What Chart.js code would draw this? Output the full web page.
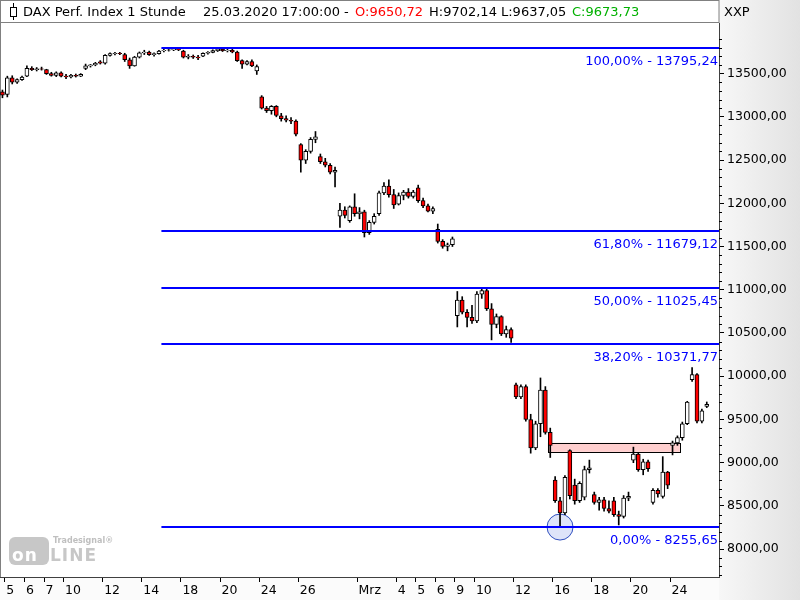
<!DOCTYPE html>
<html lang="de">
<head>
<meta charset="utf-8">
<title>DAX Perf. Index 1 Stunde</title>
<script src="https://cdn.jsdelivr.net/npm/chart.js@4.4.1/dist/chart.umd.min.js"></script>
<style>
  html, body { margin: 0; padding: 0; background: #fff; }
  #wrap { position: relative; width: 800px; height: 600px; overflow: hidden; font-family: 'DejaVu Sans', sans-serif; }
  #chart { position: absolute; left: 0; top: 0; }
  .ht { position: absolute; top: 4px; font-size: 13px; line-height: 15px; white-space: pre; color: #000; }
  #icon { position: absolute; left: 10px; top: 3px; width: 7px; height: 17px; }
  #icon .w { position: absolute; left: 3px; top: 0; width: 1px; height: 17px; background: #000; }
  #icon .b { position: absolute; left: 0; top: 4px; width: 5px; height: 8px; border: 1px solid #000; background: #fff; }
  #logo { position: absolute; left: 9px; top: 536px; width: 110px; height: 30px; opacity: 0.55; }
  #logo .box { position: absolute; left: 0; top: 1px; width: 40px; height: 28px; border-radius: 6px; background: #9a9a9a; }
  #logo .on { position: absolute; left: 3px; top: 9px; font: bold 17px 'DejaVu Sans', sans-serif; color: #fff; letter-spacing: 1px; }
  #logo .line { position: absolute; left: 41px; top: 9px; font: bold 17px 'DejaVu Sans', sans-serif; color: #9a9a9a; letter-spacing: 1px; }
  #logo .ts { position: absolute; left: 44px; top: 0; font: bold 8px 'DejaVu Sans', sans-serif; color: #8a8a8a; }
</style>
</head>
<body>
<div id="wrap">
  <canvas id="chart" width="800" height="600"></canvas>
  <div id="icon"><div class="w"></div><div class="b"></div></div>
  <span class="ht" style="left:23px">DAX Perf. Index 1 Stunde</span>
  <span class="ht" style="left:203px">25.03.2020 17:00:00 -</span>
  <span class="ht" style="left:355px;color:#ff0000">O:9650,72</span>
  <span class="ht" style="left:429px">H:9702,14</span>
  <span class="ht" style="left:501px">L:9637,05</span>
  <span class="ht" style="left:572px;color:#00b000">C:9673,73</span>
  <span class="ht" style="left:724px">XXP</span>
  <div id="logo"><div class="box"></div><span class="on">on</span><span class="line">LINE</span><span class="ts">Tradesignal®</span></div>
</div>
<script>
// trading days shown (04.02. only with its last bar)
const days = ['04.02.','05.02.','06.02.','07.02.','10.02.','11.02.','12.02.','13.02.','14.02.',
  '17.02.','18.02.','19.02.','20.02.','21.02.','24.02.','25.02.','26.02.','27.02.','28.02.',
  '02.03.','03.03.','04.03.','05.03.','06.03.','09.03.','10.03.','11.03.','12.03.','13.03.',
  '16.03.','17.03.','18.03.','19.03.','20.03.','23.03.','24.03.','25.03.'];
const slots = ['09:00','11:00','13:00','15:00'];

// x axis labels
const tickDays = ['05.02.','06.02.','07.02.','10.02.','12.02.','14.02.','18.02.','20.02.','24.02.','26.02.',
  '02.03.','04.03.','05.03.','06.03.','09.03.','10.03.','12.03.','16.03.','18.03.','20.03.','24.03.'];
const tickText = ['5','6','7','10','12','14','18','20','24','26','Mrz','4','5','6','9','10','12','16','18','20','24'];

// y axis labels
const yTicks = [8000,8500,9000,9500,10000,10500,11000,11500,12000,12500,13000,13500];

// bars (one row per day)
const opens = [13290,
  13260,13450,13400,13430,  13470,13560,13545,13555,  13545,13500,13480,13510,  13470,13460,13480,13470,
  13560,13590,13600,13635,  13620,13710,13730,13735,  13720,13660,13590,13690,  13740,13750,13720,13730,
  13765,13770,13775,13780,  13760,13690,13700,13690,  13700,13735,13745,13765,  13780,13765,13770,13750,
  13650,13610,13640,13530,  13230,13100,13070,13120,  13010,12980,12960,12950,  12680,12500,12600,12740,
  12540,12480,12440,12360,  11850,11920,11800,11960,  11880,11900,11660,11780,  11880,12120,12200,12100,
  11990,12090,12130,12080,  12180,12030,11970,11910,  11700,11560,11500,11520,  10700,10880,10740,10680,
  10640,10950,10990,10780,  10600,10690,10490,10540,  9900,9760,9880,9500,      9170,9450,9840,9350,
  8800,8560,8420,9140,      8740,8560,8600,8920,      8630,8540,8570,8470,      8560,8400,8380,8590,
  9030,9100,8920,9010,      8540,8680,8610,8890,      9200,9230,9290,9450,      9960,10020,9480,9650.72];
const highs = [13310,
  13470,13475,13440,13470,  13590,13580,13570,13575,  13550,13515,13520,13520,  13490,13490,13495,13500,
  13610,13605,13630,13650,  13720,13740,13745,13745,  13735,13680,13700,13750,  13770,13760,13740,13770,
  13785,13790,13790,13790,  13770,13720,13715,13710,  13740,13755,13775,13795.24, 13790,13780,13785,13760,
  13660,13650,13660,13600,  13245,13120,13130,13130,  13040,13010,12990,12965,  12690,12620,12760,12830,
  12570,12520,12460,12420,  12000,11960,11970,12110,  11950,11920,11800,11880,  12140,12240,12270,12160,
  12120,12150,12170,12150,  12210,12060,11990,11960,  11760,11580,11540,11610,  10980,10920,10770,10820,
  10980,11020,11010,10840,  10720,10700,10580,10560,  9920,9900,9900,9560,      9480,9980,9880,9400,
  8840,8600,8850,9150,      8810,8780,8960,9030,      8660,8600,8600,8560,      8600,8440,8620,8660,
  9180,9110,9040,9030,      8700,8700,9070,8900,      9250,9310,9470,9710,      10100,10030,9620,9702.14];
const lows = [13220,
  13230,13380,13385,13420,  13465,13535,13530,13540,  13490,13470,13465,13460,  13440,13450,13460,13465,
  13545,13575,13590,13610,  13610,13700,13715,13720,  13640,13560,13585,13680,  13720,13710,13700,13725,
  13750,13760,13765,13765,  13680,13670,13675,13660,  13695,13725,13740,13755,  13755,13750,13740,13640,
  13560,13600,13580,13490,  13090,13050,13030,13000,  12950,12940,12920,12780,  12360,12460,12580,12700,
  12460,12420,12340,12190,  11720,11830,11780,11850,  11820,11610,11640,11760,  11860,12100,12070,11940,
  11980,12040,12060,12060,  12010,11950,11900,11880,  11540,11480,11450,11500,  10570,10720,10570,10610,
  10620,10900,10760,10420,  10560,10470,10450,10390,  9740,9740,9480,9110,      9150,9300,9330,9060,
  8540,8255.65,8400,8580,   8520,8540,8570,8880,      8520,8450,8440,8420,      8380,8280,8360,8560,
  9000,8900,8860,8900,      8520,8600,8590,8700,      9090,9200,9260,9440,      9940,9460,9460,9637.05];
const closes = [13250,
  13450,13400,13430,13460,  13560,13545,13555,13550,  13500,13480,13510,13470,  13460,13480,13470,13490,
  13590,13600,13620,13620,  13710,13730,13735,13730,  13660,13590,13690,13740,  13750,13720,13730,13760,
  13770,13775,13780,13775,  13690,13700,13690,13680,  13735,13745,13765,13785,  13765,13770,13750,13650,
  13610,13640,13590,13580,  13100,13070,13120,13015,  12980,12960,12950,12800,  12500,12600,12740,12770,
  12480,12440,12360,12380,  11920,11860,11960,11880,  11900,11660,11780,11850,  12120,12200,12100,11980,
  12090,12130,12080,12130,  12030,11970,11910,11940,  11560,11500,11520,11590,  10880,10740,10680,10640,
  10950,10990,10780,10600,  10690,10490,10540,10440,  9760,9880,9500,9170,      9450,9840,9350,9200,
  8560,8420,8830,8620,      8560,8760,8920,8940,      8540,8570,8470,8440,      8400,8380,8590,8610,
  9100,8920,9010,8930,      8680,8640,8890,8740,      9230,9290,9450,9700,      10020,9480,9600,9673.73];

// Fibonacci retracement
const fibPct = ['100,00%','61,80%','50,00%','38,20%','0,00%'];
const fibPrice = [13795.24, 11679.12, 11025.45, 10371.77, 8255.65];
const fibFrom = '17.02. 09:00';

// resistance zone
const zoneFrom = '13.03. 15:00';
const zoneTo = '24.03. 11:00';
const zoneLow = 9125;
const zoneHigh = 9230;

const candleLabels = [days[0] + ' 15:00'];
days.slice(1).forEach(d => slots.forEach(s => candleLabels.push(d + ' ' + s)));
candleLabels.push(' ', '  ');

const tickAt = {};
tickDays.forEach((d, i) => { tickAt[candleLabels.indexOf(d + ' 09:00')] = tickText[i]; });

const bodies = opens.map((o, i) => [o, closes[i]]);
const wicks = lows.map((l, i) => [l, highs[i]]);
const bodyColors = opens.map((o, i) => closes[i] >= o ? '#ffffff' : '#ff0000');

const fmt = v => v.toFixed(2).replace('.', ',');
const FONT = 'DejaVu Sans';

const backdrop = {
  id: 'backdrop',
  beforeDraw(chart) {
    const c = chart.ctx, a = chart.chartArea;
    c.save();
    c.fillStyle = '#ffffff';
    c.fillRect(0, 0, chart.width, chart.height);
    const g = c.createLinearGradient(a.right, 0, chart.width, 0);
    g.addColorStop(0, '#f7f7f7');
    g.addColorStop(1, '#e2e2e2');
    c.fillStyle = g;
    c.fillRect(a.right, 0, chart.width - a.right, chart.height);
    c.fillStyle = '#fbfbfb';
    c.fillRect(0, a.bottom, a.right, chart.height - a.bottom);
    // header frame
    c.strokeStyle = '#808080';
    c.lineWidth = 1;
    c.strokeRect(0.5, 0.5, a.right - 0.5, a.top - 1);
    c.beginPath();
    c.moveTo(0.5, a.top); c.lineTo(0.5, a.bottom);
    c.stroke();
    c.restore();
  },
  beforeDatasetsDraw(chart) {
    const c = chart.ctx, x = chart.scales.x, y = chart.scales.y;
    const w = x.getPixelForValue(1) - x.getPixelForValue(0);
    const x0 = x.getPixelForValue(candleLabels.indexOf(zoneFrom)) - w / 2;
    const x1 = x.getPixelForValue(candleLabels.indexOf(zoneTo)) + w / 2;
    const yt = y.getPixelForValue(zoneHigh), yb = y.getPixelForValue(zoneLow);
    c.save();
    c.fillStyle = 'rgba(255,190,190,0.75)';
    c.fillRect(x0, yt, x1 - x0, yb - yt);
    c.strokeStyle = '#000';
    c.lineWidth = 1;
    c.strokeRect(Math.round(x0) + 0.5, Math.round(yt) + 0.5, Math.round(x1 - x0), Math.round(yb - yt));
    // low marker
    const iLow = lows.indexOf(Math.min(...lows));
    c.beginPath();
    c.arc(x.getPixelForValue(iLow), y.getPixelForValue(lows[iLow]), 13, 0, Math.PI * 2);
    c.fillStyle = 'rgba(200,210,245,0.6)';
    c.fill();
    c.strokeStyle = '#3050c0';
    c.stroke();
    c.restore();
  },
  afterDatasetsDraw(chart) {
    const c = chart.ctx, a = chart.chartArea, x = chart.scales.x, y = chart.scales.y;
    const w = x.getPixelForValue(1) - x.getPixelForValue(0);
    const xs = x.getPixelForValue(candleLabels.indexOf(fibFrom)) - w / 2;
    c.save();
    c.font = '13px ' + FONT;
    c.textAlign = 'right';
    c.textBaseline = 'alphabetic';
    fibPrice.forEach((p, i) => {
      const py = Math.round(y.getPixelForValue(p));
      c.strokeStyle = '#0000ff';
      c.lineWidth = 2;
      c.beginPath();
      c.moveTo(xs, py); c.lineTo(a.right, py);
      c.stroke();
      c.fillStyle = '#0000ff';
      c.fillText(fibPct[i] + ' - ' + fmt(p), a.right - 1, py + 17);
    });
    c.restore();
  },
  afterDraw(chart) {
    const c = chart.ctx, a = chart.chartArea, y = chart.scales.y;
    c.save();
    c.strokeStyle = '#000';
    c.lineWidth = 1;
    c.beginPath();
    for (let v = Math.ceil(y.min / 100) * 100; v <= y.max; v += 100) {
      if (v % 500 === 0) continue;
      const py = Math.round(y.getPixelForValue(v)) + 0.5;
      c.moveTo(a.right, py); c.lineTo(a.right + 3, py);
    }
    c.stroke();
    c.restore();
  }
};

new Chart(document.getElementById('chart'), {
  type: 'bar',
  data: {
    labels: candleLabels,
    datasets: [
      { label: 'Körper', data: bodies, backgroundColor: bodyColors, borderColor: '#000', borderWidth: 1,
        borderSkipped: false, barThickness: 4, grouped: false, order: 0 },
      { label: 'Docht', data: wicks, backgroundColor: '#000', borderWidth: 0,
        barThickness: 1, grouped: false, order: 1 }
    ]
  },
  options: {
    responsive: false,
    animation: false,
    devicePixelRatio: 1,
    layout: { padding: { top: 23, left: 0, right: 0, bottom: 0 } },
    plugins: { legend: { display: false }, tooltip: { enabled: false } },
    scales: {
      x: {
        offset: true,
        grid: {
          offset: true, drawOnChartArea: false, tickLength: 5,
          tickColor: ctx => (ctx.index in tickAt) ? '#000' : 'rgba(0,0,0,0)'
        },
        border: { color: '#404040' },
        ticks: {
          autoSkip: false, maxRotation: 0, minRotation: 0, align: 'start', labelOffset: -1, padding: 1,
          color: '#000', font: { family: FONT, size: 12.5 },
          callback: (v, i) => tickAt[i] || ''
        },
        afterFit: s => { s.height = 23; }
      },
      y: {
        position: 'right',
        min: 7678,
        max: 14085,
        afterBuildTicks: s => { s.ticks = yTicks.map(v => ({ value: v })); },
        grid: { drawOnChartArea: false, tickLength: 5, tickColor: '#000' },
        border: { color: '#404040' },
        ticks: { color: '#000', padding: 3, font: { family: FONT, size: 12.5 }, callback: v => fmt(v) },
        afterFit: s => { s.width = 81; }
      }
    }
  },
  plugins: [backdrop]
});
</script>
</body>
</html>
